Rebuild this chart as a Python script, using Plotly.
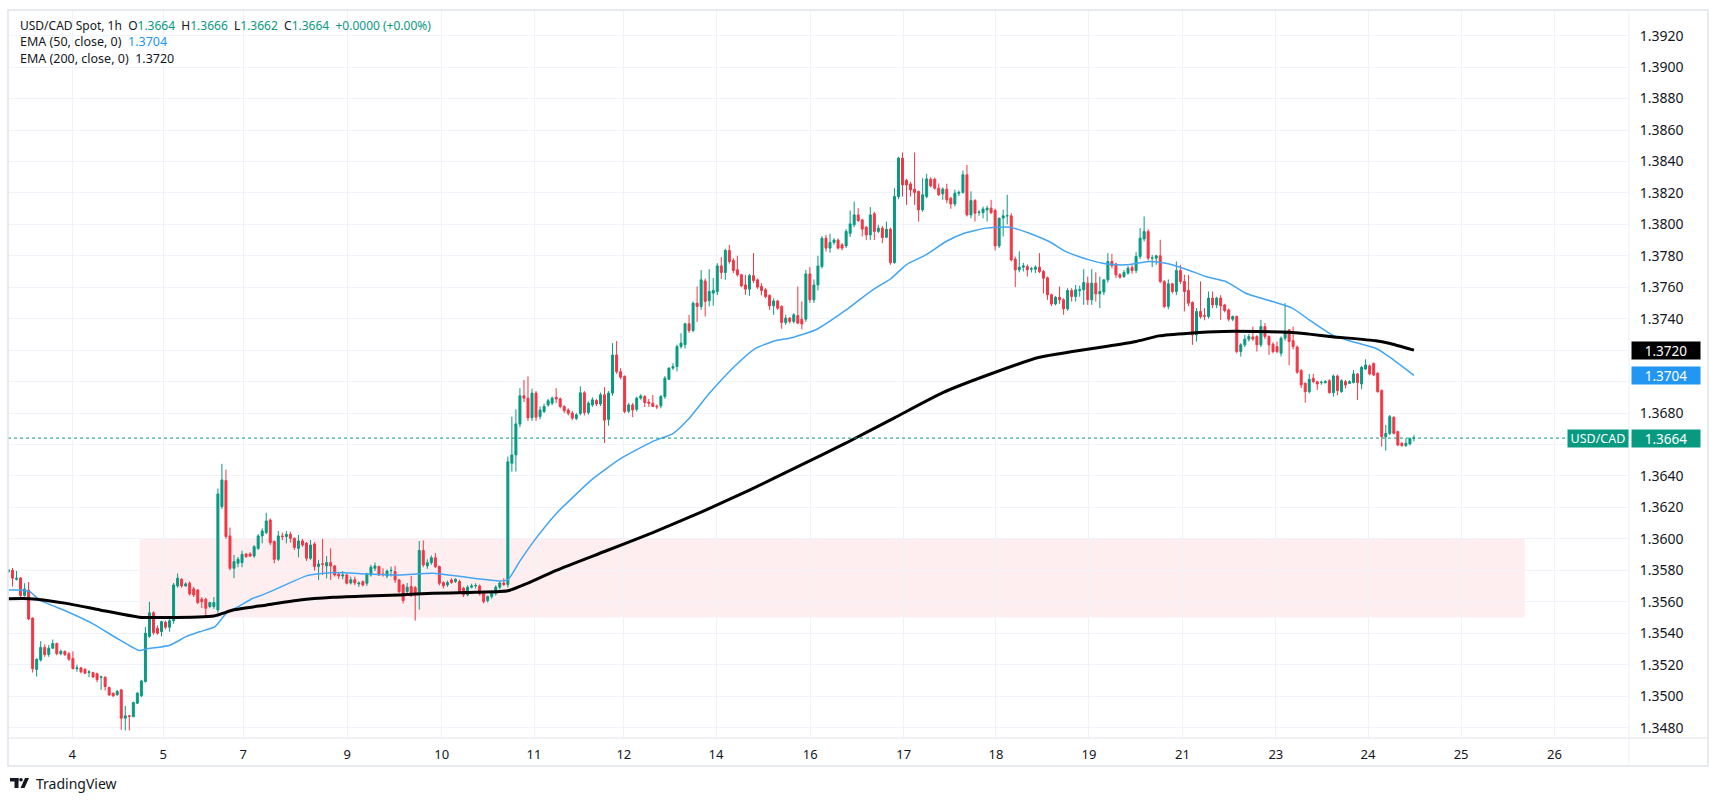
import plotly.graph_objects as go

# ---------------- data (prices in pips: 13664 = 1.3664) ----------------
opens = [13579.0,13579.9,13574.3,13575.2,13564.0,13567.5,13549.7,13517.0,13523.0,13531.0,
13526.5,13530.5,13533.5,13527.0,13528.5,13527.0,13524.0,13517.5,13518.0,13517.0,
13515.0,13515.0,13514.2,13512.0,13512.1,13505.5,13501.9,13500.8,13504.0,13486.0,
13487.5,13487.0,13495.5,13500.2,13509.3,13538.0,13553.0,13543.2,13541.0,13547.0,
13543.8,13548.0,13570.1,13574.3,13570.1,13571.8,13568.2,13567.5,13561.6,13561.6,
13557.0,13557.0,13554.8,13620.5,13637.1,13601.9,13581.3,13584.5,13584.9,13590.4,
13590.4,13589.1,13594.0,13601.9,13604.0,13612.0,13598.3,13587.0,13601.9,13601.4,
13602.9,13600.4,13594.0,13598.7,13597.2,13587.7,13596.8,13582.4,13584.2,13582.8,
13584.9,13582.8,13577.5,13576.4,13577.1,13572.0,13574.0,13571.4,13572.9,13571.8,
13577.1,13581.3,13582.4,13577.7,13576.4,13579.8,13579.2,13573.9,13570.7,13566.5,
13569.7,13569.0,13565.0,13592.6,13582.8,13584.9,13588.0,13582.4,13572.2,13570.7,
13573.9,13572.9,13572.9,13568.6,13564.4,13569.3,13570.1,13570.1,13565.4,13560.8,
13563.3,13565.4,13569.3,13572.0,13571.0,13648.1,13653.4,13673.0,13691.0,13689.5,
13677.0,13692.7,13677.8,13681.0,13685.2,13686.3,13690.0,13689.0,13684.2,13682.0,
13680.0,13676.6,13679.7,13692.9,13680.3,13685.2,13688.0,13685.8,13691.6,13676.0,
13692.7,13716.9,13706.3,13703.3,13681.2,13685.2,13682.4,13689.5,13690.5,13687.0,
13686.3,13684.4,13684.6,13690.5,13701.5,13708.6,13709.6,13722.3,13723.5,13736.8,
13732.5,13749.9,13747.8,13764.0,13751.5,13756.3,13757.3,13773.6,13769.4,13783.4,
13777.0,13771.1,13767.9,13761.5,13758.8,13767.4,13764.7,13760.5,13758.4,13754.8,
13748.2,13751.3,13747.8,13737.6,13740.4,13738.3,13742.0,13739.7,13739.7,13768.5,
13752.0,13761.5,13773.2,13791.2,13784.9,13788.5,13790.0,13787.0,13786.3,13794.3,
13799.7,13806.0,13802.8,13798.2,13793.3,13806.7,13795.5,13797.6,13791.8,13796.9,
13775.7,13817.7,13842.1,13827.9,13825.7,13822.4,13820.9,13809.2,13817.7,13828.7,
13828.7,13823.0,13819.4,13822.4,13816.6,13813.0,13819.8,13820.3,13831.5,13806.0,
13815.2,13807.5,13807.5,13809.2,13810.3,13808.8,13786.3,13804.0,13805.4,13805.4,
13777.9,13771.1,13772.8,13773.2,13771.5,13771.5,13772.8,13770.0,13766.0,13755.2,
13749.4,13753.6,13752.0,13746.3,13757.9,13754.1,13758.0,13758.4,13762.6,13752.0,
13762.6,13755.8,13757.0,13764.7,13776.4,13774.8,13767.9,13766.8,13769.0,13772.6,
13770.6,13779.6,13790.7,13795.4,13778.5,13778.5,13780.0,13763.7,13747.8,13762.2,
13757.3,13770.6,13763.7,13758.0,13750.3,13729.7,13744.6,13742.0,13741.4,13753.1,
13748.8,13753.1,13748.8,13745.6,13739.7,13741.4,13719.1,13723.4,13727.0,13728.4,
13728.7,13723.4,13735.0,13728.7,13723.8,13722.3,13718.1,13727.6,13732.9,13726.0,
13722.0,13707.0,13698.9,13693.6,13702.1,13700.0,13699.4,13699.3,13700.6,13693.0,
13703.6,13693.6,13700.0,13698.9,13699.4,13704.9,13698.5,13708.0,13710.0,13711.6,
13705.3,13694.3,13665.0,13667.1,13677.3,13668.2,13660.8,13659.3,13660.4,13664.0]

highs = [13581.0,13581.5,13579.6,13575.6,13571.8,13572.6,13550.0,13524.0,13535.0,13533.0,
13532.5,13536.0,13534.0,13529.5,13529.0,13528.0,13528.5,13520.0,13518.5,13518.0,
13516.5,13515.5,13515.0,13513.0,13512.5,13506.0,13502.3,13504.0,13504.5,13493.8,
13488.1,13496.5,13502.5,13510.4,13544.0,13560.0,13554.0,13545.0,13548.0,13548.0,
13551.0,13572.0,13578.0,13575.0,13572.5,13573.0,13569.5,13568.0,13563.0,13562.5,
13560.0,13563.0,13632.0,13647.7,13644.0,13607.2,13589.8,13588.5,13592.5,13591.0,
13591.5,13596.0,13603.0,13606.7,13616.7,13613.0,13599.0,13605.0,13604.0,13605.0,
13604.6,13601.0,13602.5,13600.0,13598.0,13599.3,13598.0,13586.6,13600.0,13589.1,
13594.0,13583.5,13578.5,13579.6,13578.0,13576.0,13576.0,13573.0,13573.5,13578.5,
13583.5,13585.0,13583.0,13581.3,13580.5,13582.4,13582.8,13574.5,13571.5,13572.0,
13576.4,13570.0,13598.7,13599.0,13587.0,13589.5,13591.0,13583.0,13573.0,13573.5,
13575.0,13575.0,13574.0,13569.5,13570.5,13571.5,13571.8,13571.0,13566.0,13564.0,
13567.0,13570.5,13573.0,13575.0,13652.3,13677.7,13682.4,13695.8,13701.0,13703.3,
13695.5,13694.0,13684.2,13686.0,13689.0,13690.5,13695.8,13690.0,13685.0,13683.0,
13681.5,13680.0,13697.0,13694.0,13687.5,13690.0,13689.0,13693.0,13696.5,13694.0,
13724.5,13725.8,13708.6,13704.0,13686.5,13686.5,13690.5,13692.0,13691.5,13689.0,
13691.5,13685.5,13691.5,13703.5,13709.0,13711.7,13723.5,13730.8,13737.5,13742.5,
13751.0,13760.5,13771.0,13765.5,13771.5,13765.8,13775.3,13779.2,13784.5,13787.0,
13778.5,13780.0,13768.5,13767.9,13768.5,13781.7,13765.5,13762.6,13759.5,13755.5,
13753.0,13752.0,13748.5,13742.6,13741.0,13743.5,13760.5,13751.0,13771.0,13772.8,
13765.0,13780.0,13792.5,13793.3,13794.0,13791.2,13791.0,13788.0,13797.0,13808.8,
13814.5,13810.3,13803.5,13799.0,13811.0,13808.0,13799.7,13799.0,13801.8,13798.0,
13823.0,13843.0,13845.7,13829.0,13827.0,13845.7,13821.5,13829.4,13832.1,13830.0,
13829.7,13826.0,13823.5,13825.8,13817.5,13822.0,13821.5,13834.2,13837.8,13821.0,
13816.0,13809.0,13811.3,13811.8,13815.6,13810.0,13800.8,13809.2,13818.8,13807.0,
13779.5,13782.8,13775.5,13774.5,13773.0,13774.0,13781.7,13771.0,13766.8,13756.0,
13754.5,13760.5,13753.0,13759.4,13759.4,13761.5,13761.0,13771.5,13766.8,13771.5,
13769.5,13766.8,13765.0,13781.7,13781.2,13775.5,13769.0,13771.0,13773.5,13774.3,
13782.3,13797.6,13805.0,13796.9,13780.6,13780.6,13790.2,13764.5,13765.0,13762.8,
13776.4,13774.3,13767.9,13767.9,13751.0,13746.7,13763.7,13746.7,13757.3,13757.3,
13754.0,13755.0,13749.5,13746.5,13742.0,13742.0,13724.4,13729.7,13730.4,13735.0,
13729.5,13739.3,13737.2,13729.5,13725.0,13725.5,13728.7,13749.9,13733.5,13735.0,
13723.0,13708.0,13699.5,13704.9,13704.9,13700.5,13700.6,13701.0,13701.5,13704.5,
13704.5,13701.5,13701.0,13700.8,13707.4,13705.5,13710.0,13714.2,13711.0,13712.1,
13706.0,13695.0,13672.4,13678.8,13678.0,13668.8,13661.5,13664.0,13664.5,13666.0]

lows = [13578.5,13569.7,13573.5,13562.9,13563.3,13548.5,13515.0,13512.5,13522.0,13525.0,
13525.0,13530.0,13526.0,13526.0,13525.5,13522.5,13517.0,13515.5,13514.5,13514.0,
13512.0,13511.5,13508.8,13504.0,13503.6,13500.2,13499.5,13500.5,13478.6,13478.2,
13478.2,13486.5,13495.0,13499.5,13508.7,13537.0,13539.0,13539.0,13538.0,13542.5,
13541.0,13546.0,13569.0,13569.0,13569.5,13564.0,13563.0,13558.5,13556.0,13550.2,
13556.0,13555.5,13553.0,13619.0,13600.0,13580.0,13575.0,13582.0,13582.0,13588.0,
13588.5,13588.0,13593.0,13597.2,13603.0,13596.0,13584.5,13586.0,13599.3,13597.2,
13597.6,13593.0,13588.3,13595.0,13586.0,13586.6,13579.8,13573.9,13577.1,13574.9,
13573.9,13576.0,13574.5,13574.3,13571.0,13571.0,13570.5,13569.5,13569.8,13570.0,
13576.0,13579.5,13576.5,13576.0,13575.0,13576.0,13572.0,13565.5,13559.0,13565.0,
13563.0,13548.0,13555.0,13582.0,13581.0,13583.5,13581.5,13570.5,13568.5,13569.5,
13571.5,13572.0,13565.0,13563.0,13563.5,13568.5,13568.5,13564.0,13559.0,13559.5,
13562.0,13564.0,13568.0,13570.0,13569.0,13642.8,13642.8,13671.0,13687.0,13675.0,
13675.0,13675.0,13676.0,13680.0,13684.0,13685.0,13686.3,13683.0,13680.0,13678.5,
13675.5,13675.5,13678.5,13678.5,13679.0,13684.0,13684.5,13684.5,13661.0,13672.0,
13691.0,13705.0,13701.5,13679.9,13680.0,13677.4,13681.0,13688.5,13683.8,13684.0,
13683.8,13682.5,13683.0,13689.0,13701.0,13707.5,13706.5,13721.0,13721.0,13731.0,
13731.5,13738.0,13745.6,13741.4,13747.8,13748.2,13755.0,13765.3,13764.7,13775.0,
13769.0,13766.8,13760.0,13755.2,13754.6,13762.6,13759.0,13754.8,13753.0,13745.6,
13742.5,13745.5,13733.6,13736.1,13737.0,13737.0,13736.7,13733.3,13738.0,13750.0,
13750.0,13758.0,13772.0,13782.7,13782.0,13787.0,13784.0,13783.5,13785.0,13792.0,
13798.2,13801.5,13792.3,13790.0,13790.0,13790.0,13794.4,13788.0,13791.2,13774.3,
13775.0,13816.0,13817.7,13812.4,13817.7,13812.4,13801.8,13808.0,13816.6,13823.5,
13822.0,13818.0,13815.6,13813.5,13809.9,13811.4,13818.0,13819.5,13805.0,13804.0,
13801.8,13805.5,13803.9,13801.8,13806.5,13783.4,13785.0,13792.3,13800.0,13776.4,
13760.1,13769.5,13770.0,13766.8,13769.4,13769.0,13769.0,13756.0,13752.0,13748.0,
13748.5,13749.4,13742.5,13745.0,13750.9,13750.9,13754.0,13748.8,13748.8,13748.8,
13750.9,13746.7,13755.0,13763.0,13772.0,13765.8,13765.5,13766.0,13768.0,13768.6,
13769.0,13778.0,13789.0,13777.0,13772.8,13774.3,13762.6,13746.7,13746.0,13756.0,
13755.0,13762.0,13744.6,13748.0,13723.4,13725.5,13740.0,13739.0,13740.0,13746.7,
13746.7,13739.3,13744.0,13738.3,13738.5,13718.0,13715.9,13722.0,13725.5,13726.0,
13719.1,13722.0,13727.0,13717.0,13718.0,13718.0,13716.0,13726.0,13710.5,13720.5,
13705.0,13696.0,13686.6,13692.5,13699.0,13694.7,13698.0,13698.9,13692.5,13690.5,
13691.5,13693.0,13695.7,13698.5,13698.9,13688.3,13695.1,13707.5,13704.0,13703.5,
13693.0,13658.7,13656.1,13666.0,13666.5,13659.0,13658.7,13658.5,13659.5,13662.0]

closes = [13580.3,13575.0,13575.0,13564.0,13568.2,13549.1,13517.5,13523.5,13531.0,13526.5,
13530.5,13533.5,13527.0,13528.5,13526.5,13523.5,13517.5,13518.0,13515.5,13514.6,
13515.5,13512.2,13510.5,13512.3,13506.1,13500.8,13500.2,13503.0,13486.0,13487.5,
13487.2,13496.0,13501.9,13509.7,13540.0,13553.0,13540.4,13540.0,13547.4,13543.8,
13548.0,13570.7,13575.0,13570.1,13571.4,13565.0,13564.4,13559.5,13560.1,13555.9,
13559.5,13559.5,13628.6,13637.5,13601.5,13581.3,13585.6,13587.0,13590.2,13588.7,
13589.1,13595.0,13601.9,13605.0,13611.4,13597.6,13587.0,13601.9,13601.4,13602.9,
13600.4,13594.6,13598.7,13596.1,13587.7,13596.1,13582.4,13584.0,13583.8,13584.9,
13582.8,13577.1,13576.4,13577.0,13571.8,13574.0,13572.0,13571.9,13570.7,13577.7,
13582.0,13582.8,13577.1,13577.3,13579.6,13580.0,13573.9,13566.5,13560.8,13569.3,
13564.4,13565.0,13592.6,13583.5,13584.9,13588.0,13582.4,13571.8,13570.1,13572.2,
13572.2,13574.3,13566.5,13564.4,13569.3,13570.1,13570.4,13565.0,13560.1,13563.3,
13565.9,13569.3,13572.0,13571.0,13649.0,13653.4,13673.1,13691.0,13689.5,13677.0,
13692.7,13677.4,13682.0,13684.2,13687.8,13689.5,13689.0,13684.2,13681.6,13679.9,
13676.8,13678.9,13692.9,13680.3,13686.3,13688.4,13685.8,13691.6,13675.5,13692.7,
13716.9,13706.3,13702.8,13681.0,13685.2,13682.0,13689.5,13690.9,13686.7,13686.3,
13684.2,13684.0,13690.5,13702.2,13708.6,13709.6,13722.3,13724.5,13736.8,13732.5,
13749.9,13747.8,13764.7,13751.0,13757.3,13758.0,13773.6,13769.4,13783.4,13776.4,
13770.7,13767.9,13760.9,13758.8,13767.4,13764.3,13760.1,13757.9,13754.1,13748.2,
13751.3,13746.7,13737.6,13740.4,13738.3,13742.5,13737.2,13736.7,13768.5,13752.0,
13761.5,13773.6,13791.2,13784.9,13788.5,13790.0,13784.9,13784.9,13795.5,13800.3,
13806.0,13802.4,13797.0,13793.3,13806.0,13795.5,13797.6,13791.6,13796.9,13775.7,
13817.7,13842.1,13825.1,13825.1,13821.9,13820.3,13809.2,13818.8,13828.9,13824.5,
13823.0,13818.8,13822.4,13815.6,13813.0,13819.8,13820.3,13831.5,13806.0,13815.2,
13807.1,13807.8,13809.7,13810.3,13807.5,13786.3,13804.0,13805.4,13805.5,13777.5,
13771.1,13772.8,13773.6,13771.1,13771.8,13772.8,13770.0,13765.8,13755.2,13749.4,
13753.6,13752.0,13746.3,13757.9,13754.1,13758.4,13758.4,13763.0,13752.0,13762.6,
13755.8,13757.3,13764.7,13776.4,13773.7,13767.9,13766.4,13769.4,13772.1,13770.6,
13779.6,13791.2,13795.4,13778.5,13778.7,13780.0,13763.7,13747.8,13762.2,13757.3,
13770.6,13763.7,13757.3,13749.9,13729.7,13744.6,13741.4,13741.6,13753.1,13748.8,
13753.1,13748.2,13745.2,13739.7,13741.4,13719.1,13723.4,13727.0,13728.7,13727.1,
13723.4,13735.0,13728.7,13723.4,13719.1,13719.1,13727.6,13732.3,13725.5,13722.3,
13706.0,13698.0,13693.6,13701.5,13700.0,13698.5,13699.6,13700.0,13693.0,13703.6,
13694.3,13700.6,13697.9,13700.0,13704.9,13699.4,13709.1,13710.6,13704.9,13704.2,
13693.6,13665.0,13667.1,13677.7,13667.1,13659.7,13659.3,13660.8,13663.7,13664.1]

ema50_x = [0, 3, 5.3, 7.8, 14.4, 21, 26.8, 32.5, 34.3, 40.1, 44.2, 47.5, 51.2, 54.1, 57.4,
           60.7, 62.4, 68.2, 74, 80.6, 88.9, 97.1, 105.4, 113.7, 122, 124, 126.9, 130, 136,
           145, 152, 160, 165, 168.7, 174.1, 180.7, 185.6, 190.6, 193.9, 200.5, 208, 214.6,
           219.1, 222.9, 227.8, 232.8, 237.3, 242.7, 248.5, 253.5, 258.4, 262.6, 268.4,
           272.5, 277.5, 283.3, 287.4, 292.4, 297.3, 302.3, 307.2, 313.9, 318.8, 323,
           328.7, 332.9, 339.5, 342.8, 349]
ema50_y = [13567.5, 13567.5, 13566.5, 13561, 13554, 13546, 13537, 13529, 13530, 13532.4,
           13538, 13541, 13544, 13552.7, 13557.4, 13562.3, 13563.7, 13570.1, 13576.5,
           13578.6, 13577.7, 13577.1, 13578.2, 13575.6, 13573.3, 13574, 13585.5, 13597,
           13616, 13638, 13651, 13662, 13667, 13675.7, 13692.7, 13710.7, 13721.3, 13726.1,
           13727.6, 13733, 13745.6, 13758.4, 13765.4, 13774.3, 13780.6, 13789.1, 13794.4,
           13797.6, 13798.2, 13794.4, 13789.1, 13782.7, 13777.4, 13774.9, 13774.3, 13776.4,
           13775.3, 13771.5, 13766.8, 13763.7, 13756.2, 13750.9, 13746.7, 13739.3, 13729.7,
           13726, 13721.2, 13715.9, 13704]

ema200_x = [0, 5.3, 14.4, 22.7, 32.5, 39.2, 51, 55.8, 64.1, 72.3, 80.6, 88.9, 97.1, 105.4,
            113.7, 122, 124, 130, 136, 148, 160, 172, 184, 196, 208, 220, 232, 244, 256,
            264.2, 272.5, 280, 285.7, 293.2, 301.5, 309.7, 318, 323, 328.7, 339.5, 342.8, 349]
ema200_y = [13562, 13562, 13559, 13554.8, 13550.2, 13550, 13551, 13554.8, 13558, 13561.2,
            13562.9, 13563.7, 13564.4, 13565.4, 13565.9, 13566.5, 13567, 13573, 13580, 13592,
            13604, 13617, 13631, 13646, 13661, 13677, 13693, 13705, 13715.5, 13719.1, 13722.3,
            13725.5, 13729.1, 13730.8, 13731.9, 13731.9, 13731.4, 13730.2, 13728.6, 13726,
            13724.4, 13720]

day_labels = ["4", "5", "7", "9", "10", "11", "12", "14", "16", "17", "18", "19", "21", "23", "24", "25", "26"]
day_pos = [15.8, 38.4, 58.3, 84.1, 107.6, 130.5, 152.8, 175.7, 199.1, 222.3, 245.2, 268.3, 291.5, 314.7, 337.6, 360.7, 383.9]

price_ticks = [1.3480 + 0.0020 * k for k in range(23)]
hidden_ticks = ["1.3720", "1.3700", "1.3660"]   # covered by the price tags
zone_low, zone_high = 1.3550, 1.3600
zone_start, zone_end = 32.6, 376.5
last_price, ema50_last, ema200_last = 1.36641, 1.3704, 1.3720

P = lambda v: [x / 10000.0 for x in v]

# ---------------- layout geometry helpers (pixels -> paper) ----------------
W, H = 1723, 801
ML, MR, MT, MB = 8, 94, 10, 63
PW, PH = W - ML - MR, H - MT - MB
def px(x): return (x - ML) / PW
def py(y): return (H - MB - y) / PH

GREEN, RED, BLUE, DARK = "#089981", "#F23645", "#2196F3", "#131722"
FONT = "Noto Sans"

fig = go.Figure()

fig.add_trace(go.Candlestick(
    x=list(range(len(closes))), open=P(opens), high=P(highs), low=P(lows), close=P(closes),
    increasing=dict(line=dict(color=GREEN, width=1), fillcolor=GREEN),
    decreasing=dict(line=dict(color=RED, width=1), fillcolor=RED),
    whiskerwidth=0, showlegend=False, hoverinfo="skip"))

fig.add_trace(go.Scatter(x=ema50_x, y=P(ema50_y), mode="lines",
                         line=dict(color="#42A5F5", width=1.5, shape="spline", smoothing=0.5),
                         showlegend=False, hoverinfo="skip"))
fig.add_trace(go.Scatter(x=ema200_x, y=P(ema200_y), mode="lines",
                         line=dict(color="#000000", width=3, shape="spline", smoothing=0.5),
                         showlegend=False, hoverinfo="skip"))

shapes = [
    dict(type="rect", xref="x", yref="y", x0=zone_start, x1=zone_end, y0=zone_low, y1=zone_high,
         fillcolor="rgba(242,54,69,0.085)", line=dict(width=0), layer="below"),
    dict(type="line", xref="paper", yref="y", x0=0, x1=1, y0=last_price, y1=last_price,
         line=dict(color=GREEN, width=1, dash="dot")),
    dict(type="rect", xref="paper", yref="paper", x0=px(8), x1=px(1708), y0=py(766), y1=py(10),
         line=dict(color="#E0E3EB", width=1.5), fillcolor="rgba(0,0,0,0)"),
    dict(type="line", xref="paper", yref="paper", x0=px(8), x1=px(1708), y0=py(738), y1=py(738),
         line=dict(color="#E0E3EB", width=1)),
    dict(type="line", xref="paper", yref="paper", x0=1, x1=1, y0=py(766), y1=py(10),
         line=dict(color="#EDEFF3", width=1)),
    # TradingView logo
    dict(type="rect", xref="paper", yref="paper", x0=px(10), x1=px(18.5), y0=py(781.5), y1=py(778),
         fillcolor=DARK, line=dict(width=0)),
    dict(type="rect", xref="paper", yref="paper", x0=px(14.5), x1=px(18.5), y0=py(788), y1=py(778),
         fillcolor=DARK, line=dict(width=0)),
    dict(type="circle", xref="paper", yref="paper", x0=px(19.2), x1=px(22.8), y0=py(781.6), y1=py(778),
         fillcolor=DARK, line=dict(width=0)),
    dict(type="path", xref="paper", yref="paper",
         path=f"M {px(20.5)},{py(788)} L {px(25)},{py(778)} L {px(29)},{py(778)} L {px(24.5)},{py(788)} Z",
         fillcolor=DARK, line=dict(width=0)),
]

ann = []
def txt(x, y, t, color=DARK, size=12.5, anchor="left"):
    ann.append(dict(xref="paper", yref="paper", x=px(x), y=py(y), text=t, showarrow=False,
                    xanchor=anchor, yanchor="middle", font=dict(family=FONT, size=size, color=color)))

g = lambda s: f"<span style='color:{GREEN}'>{s}</span>"
sp = "&nbsp;&nbsp;"
txt(18, 25, "USD/CAD Spot, 1h" + sp + "O" + g("1.3664") + sp + "H" + g("1.3666") + sp +
    "L" + g("1.3662") + sp + "C" + g("1.3664") + sp + g("+0.0000 (+0.00%)"), size=12)
txt(18, 42, "EMA (50, close, 0)" + sp + f"<span style='color:{BLUE}'>1.3704</span>")
txt(18, 59, "EMA (200, close, 0)" + sp + "1.3720")
txt(34, 783, "TradingView", size=14)

def tag(xc, yv, t, bg, w, size=13.5):
    ann.append(dict(xref="paper", yref="y", x=px(xc), y=yv, text=t, showarrow=False,
                    xanchor="center", yanchor="middle", bgcolor=bg, width=w, height=17,
                    borderpad=0, font=dict(family=FONT, size=size, color="#FFFFFF")))
tag(1666, ema200_last, "1.3720", "#000000", 68)
tag(1666, ema50_last, "1.3704", BLUE, 68)
tag(1666, last_price, "1.3664", GREEN, 68)
tag(1598, last_price, "USD/CAD", GREEN, 60, size=12.5)

tick_text = [("" if f"{v:.4f}" in hidden_ticks else f"{v:.4f}") for v in price_ticks]

fig.update_layout(
    width=W, height=H, margin=dict(l=ML, r=MR, t=MT, b=MB),
    paper_bgcolor="#FFFFFF", plot_bgcolor="#FFFFFF",
    shapes=shapes, annotations=ann, showlegend=False,
    font=dict(family=FONT, size=13, color=DARK),
    xaxis=dict(range=[-0.12, 402.4], tickmode="array", tickvals=day_pos, ticktext=day_labels,
               showgrid=True, gridcolor="#F0F3FA", gridwidth=1, zeroline=False,
               ticks="outside", ticklen=4, tickcolor="rgba(0,0,0,0)",
               tickfont=dict(family=FONT, size=13, color=DARK),
               rangeslider=dict(visible=False), showline=False, fixedrange=True),
    yaxis=dict(range=[1.34734, 1.39363], side="right", tickmode="array",
               tickvals=price_ticks, ticktext=tick_text,
               showgrid=True, gridcolor="#F0F3FA", gridwidth=1, zeroline=False,
               ticks="outside", ticklen=7, tickcolor="rgba(0,0,0,0)",
               tickfont=dict(family=FONT, size=14, color=DARK), showline=False, fixedrange=True),
)

fig.write_html("out.html", config={"displayModeBar": False},
               post_script="document.body.style.margin='0';document.body.style.overflow='hidden';")
